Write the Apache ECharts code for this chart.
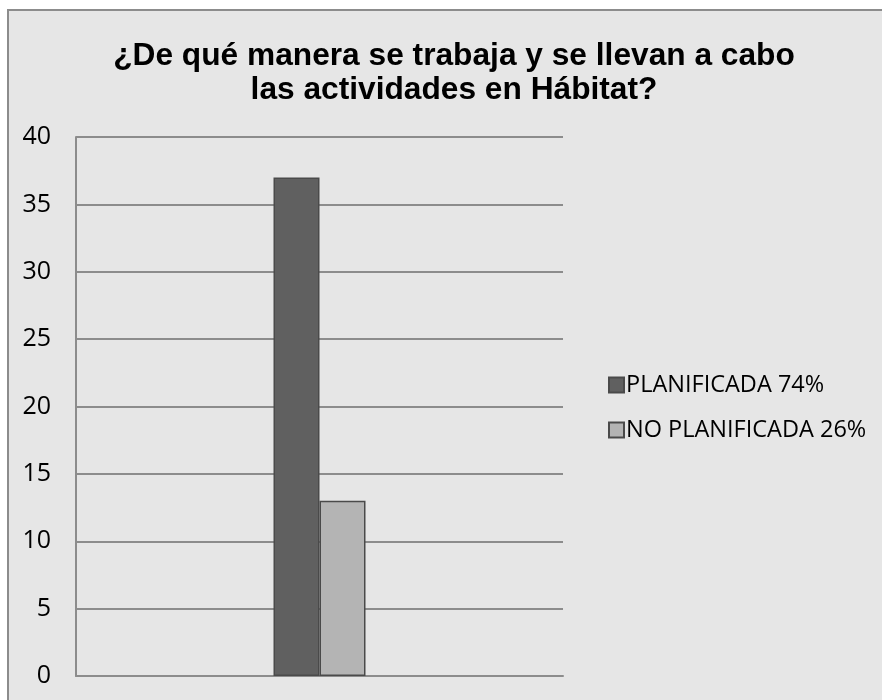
<!DOCTYPE html>
<html><head><meta charset="utf-8">
<script src="https://cdn.jsdelivr.net/npm/echarts@6/dist/echarts.min.js"></script>
<style>
html,body{margin:0;padding:0;background:#fff;width:882px;height:700px;overflow:hidden}
#frame{position:absolute;left:7px;top:9px;width:900px;height:720px;background:#e6e6e6;border:2px solid #8c8c8c;box-sizing:border-box}
#c{position:absolute;left:0;top:0;width:882px;height:700px}
</style></head><body>
<div id="frame"></div>
<div id="c"></div>
<script>
const titleText = '¿De qué manera se trabaja y se llevan a cabo\nlas actividades en Hábitat?';
const categories = [''];
const seriesNames = ['PLANIFICADA 74%', 'NO PLANIFICADA 26%'];
const planificada = [37];
const noPlanificada = [13];
const yTicks = {min: 0, max: 40, interval: 5};

const chart = echarts.init(document.getElementById('c'), null, {renderer: 'canvas'});
chart.setOption({
  backgroundColor: 'transparent',
  animation: false,
  title: {
    text: titleText, left: 449, top: 34, textAlign: 'center',
    textStyle: {fontFamily: 'Liberation Sans', fontWeight: 'bold', fontSize: 31.7, color: '#000', lineHeight: 34}
  },
  legend: {
    orient: 'vertical', left: 603, top: 368, itemGap: 21,
    itemWidth: 15, itemHeight: 15,
    textStyle: {fontFamily: 'Open Sans', fontSize: 23.5, color: '#000', padding: [0,0,0,-3]},
    data: seriesNames.map(n => ({name: n, icon: 'rect'}))
  },
  grid: {left: 76, top: 137, right: 319, bottom: 24, containLabel: false},
  xAxis: {
    type: 'category', data: categories,
    axisLine: {show: true, lineStyle: {color: '#8c8c8c', width: 2}},
    axisTick: {show: false}, axisLabel: {show: false}
  },
  yAxis: {
    type: 'value', min: yTicks.min, max: yTicks.max, interval: yTicks.interval,
    axisLine: {show: true, lineStyle: {color: '#8c8c8c', width: 2}},
    axisTick: {show: false},
    splitLine: {lineStyle: {color: '#8c8c8c', width: 2}},
    axisLabel: {fontFamily: 'Open Sans', fontSize: 25, color: '#000', margin: 25}
  },
  series: [
    {name: seriesNames[0], type: 'bar', data: planificada, barWidth: 46, barGap: '0%',
     itemStyle: {color: '#606060', borderColor: '#4a4a4a', borderWidth: 1.5}},
    {name: seriesNames[1], type: 'bar', data: noPlanificada, barWidth: 46,
     itemStyle: {color: '#b4b4b4', borderColor: '#4a4a4a', borderWidth: 1.5}}
  ]
});
</script>
</body></html>
